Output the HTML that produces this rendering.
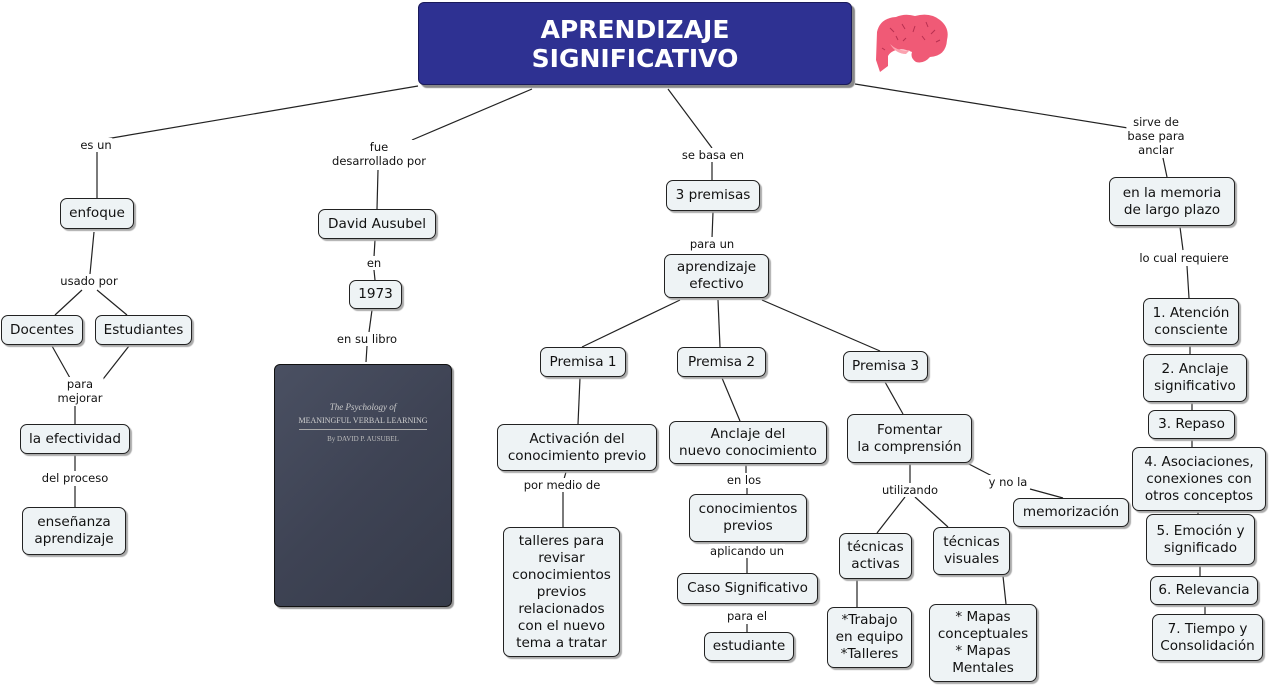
<!DOCTYPE html>
<html><head><meta charset="utf-8"><style>
body{margin:0;width:1272px;height:688px;background:#fff;position:relative;overflow:hidden;font-family:"DejaVu Sans","Liberation Sans",sans-serif;}
.n{position:absolute;box-sizing:border-box;background:#eef3f5;border:1.3px solid #222;border-radius:7px;box-shadow:2px 2px 1px #aaa;display:flex;align-items:center;justify-content:center;text-align:center;font-size:13.6px;color:#111;line-height:17px;}
.l{position:absolute;font-size:11.5px;color:#111;background:#fff;text-align:center;line-height:14px;transform:translateX(-50%);white-space:nowrap;padding:0 1px;}
svg{position:absolute;left:0;top:0;}
</style></head><body>
<svg width="1272" height="688"><g stroke="#222" stroke-width="1.2" fill="none">
<line x1="418" y1="86" x2="100" y2="140"/><line x1="97" y1="150" x2="97" y2="198"/>
<line x1="532" y1="89" x2="412" y2="140"/><line x1="378" y1="170" x2="377" y2="209"/>
<line x1="668" y1="89" x2="712" y2="148"/><line x1="712" y1="162" x2="712" y2="180"/>
<line x1="855" y1="84" x2="1128" y2="128"/><line x1="1163" y1="158" x2="1167" y2="177"/>
<line x1="94" y1="232" x2="90" y2="274"/><line x1="82" y1="290" x2="55" y2="315"/><line x1="97" y1="290" x2="127" y2="315"/>
<line x1="52" y1="346" x2="70" y2="378"/><line x1="129" y1="346" x2="100" y2="383"/>
<line x1="75" y1="406" x2="75" y2="424"/><line x1="75" y1="455" x2="75" y2="471"/><line x1="75" y1="486" x2="75" y2="507"/>
<line x1="375" y1="240" x2="374" y2="257"/><line x1="374" y1="270" x2="375" y2="280"/>
<line x1="372" y1="310" x2="369" y2="332"/><line x1="367" y1="346" x2="366" y2="362"/>
<line x1="713" y1="212" x2="712" y2="238"/>
<line x1="680" y1="300" x2="582" y2="347"/><line x1="718" y1="300" x2="720" y2="347"/><line x1="762" y1="300" x2="880" y2="351"/>
<line x1="580" y1="378" x2="578" y2="424"/><line x1="722" y1="378" x2="740" y2="421"/><line x1="885" y1="382" x2="903" y2="414"/>
<line x1="566" y1="472" x2="564" y2="479"/><line x1="563" y1="492" x2="563" y2="527"/>
<line x1="746" y1="465" x2="746" y2="474"/><line x1="747" y1="488" x2="747" y2="494"/>
<line x1="747" y1="558" x2="747" y2="573"/><line x1="747" y1="624" x2="747" y2="632"/>
<line x1="910" y1="464" x2="910" y2="483"/><line x1="905" y1="497" x2="877" y2="533"/><line x1="915" y1="497" x2="948" y2="527"/>
<line x1="965" y1="462" x2="994" y2="477"/><line x1="1030" y1="489" x2="1063" y2="498"/>
<line x1="857" y1="580" x2="857" y2="607"/><line x1="1003" y1="576" x2="1006" y2="604"/>
<line x1="1180" y1="227" x2="1183" y2="250"/><line x1="1187" y1="266" x2="1189" y2="298"/>
<line x1="1190" y1="344" x2="1190" y2="354"/><line x1="1192" y1="401" x2="1192" y2="410"/>
<line x1="1192" y1="438" x2="1192" y2="447"/><line x1="1198" y1="510" x2="1198" y2="514"/>
<line x1="1200" y1="564" x2="1200" y2="576"/><line x1="1205" y1="604" x2="1205" y2="614"/>
</g>
<g>
<path d="M877 32 Q880 18 896 17 Q905 13 915 16 Q930 12 940 20 Q950 28 947 40 Q946 56 930 57 Q924 64 916 62 Q910 58 912 52 Q903 48 896 50 Q890 52 888 56 L888 66 L880 72 L876 60 Z" fill="#f05a76"/>
<path d="M890 44 Q898 52 910 50 L906 54 Q896 54 890 44Z" fill="#fba3b0"/>
<g stroke="#b83050" stroke-width="1" fill="none"><path d="M890 28 l4 4 M902 24 l3 5 M915 26 l-2 6 M926 22 l2 5 M935 30 l-4 4 M922 36 l3 4 M906 38 l-3 3 M940 40 l-4 2 M896 36 l2 4 M882 48 l3 2"/></g>
</g>
</svg>
<div class="n" style="left:418px;top:2px;width:434px;height:83px;background:#2e3192;border-color:#1a1a5a;border-radius:6px;box-shadow:3px 3px 1px #888;color:#fff;font-weight:bold;font-size:25px;line-height:29px;font-family:'DejaVu Sans',sans-serif;">APRENDIZAJE<br>SIGNIFICATIVO</div>
<div class="n" style="left:60px;top:198px;width:74px;height:31px">enfoque</div>
<div class="n" style="left:1px;top:315px;width:82px;height:30px">Docentes</div>
<div class="n" style="left:95px;top:315px;width:97px;height:30px">Estudiantes</div>
<div class="n" style="left:20px;top:424px;width:110px;height:30px">la efectividad</div>
<div class="n" style="left:22px;top:507px;width:104px;height:48px">enseñanza<br>aprendizaje</div>
<div class="n" style="left:318px;top:209px;width:118px;height:30px">David Ausubel</div>
<div class="n" style="left:349px;top:280px;width:53px;height:29px">1973</div>
<div style="position:absolute;left:274px;top:364px;width:176px;height:241px;border-radius:6px;background:linear-gradient(135deg,#4a5062,#3e4354 50%,#363b4a);border:1px solid #111;box-shadow:2px 2px 1px #999;">
<div style="position:absolute;left:0;right:0;top:36px;text-align:center;color:#c9c9c9;font-family:'Liberation Serif',serif;font-size:9px;line-height:13px;font-style:italic">The Psychology of</div>
<div style="position:absolute;left:0;right:0;top:51px;text-align:center;color:#cfcfcf;font-family:'Liberation Serif',serif;font-size:8px;">MEANINGFUL VERBAL LEARNING</div>
<div style="position:absolute;left:24px;right:24px;top:64px;border-top:1px solid #aaa"></div>
<div style="position:absolute;left:0;right:0;top:70px;text-align:center;color:#bbb;font-family:'Liberation Serif',serif;font-size:7px;">By DAVID P. AUSUBEL</div>
</div>
<div class="n" style="left:666px;top:180px;width:94px;height:31px">3 premisas</div>
<div class="n" style="left:664px;top:254px;width:105px;height:44px">aprendizaje<br>efectivo</div>
<div class="n" style="left:540px;top:347px;width:86px;height:30px">Premisa 1</div>
<div class="n" style="left:677px;top:347px;width:89px;height:30px">Premisa 2</div>
<div class="n" style="left:843px;top:351px;width:85px;height:30px">Premisa 3</div>
<div class="n" style="left:497px;top:424px;width:160px;height:47px">Activación del<br>conocimiento previo</div>
<div class="n" style="left:669px;top:421px;width:158px;height:43px">Anclaje del<br>nuevo conocimiento</div>
<div class="n" style="left:689px;top:494px;width:118px;height:48px">conocimientos<br>previos</div>
<div class="n" style="left:677px;top:573px;width:141px;height:31px">Caso Significativo</div>
<div class="n" style="left:704px;top:632px;width:90px;height:29px">estudiante</div>
<div class="n" style="left:503px;top:527px;width:117px;height:130px">talleres para<br>revisar<br>conocimientos<br>previos<br>relacionados<br>con el nuevo<br>tema a tratar</div>
<div class="n" style="left:847px;top:414px;width:125px;height:49px">Fomentar<br>la comprensión</div>
<div class="n" style="left:1013px;top:498px;width:116px;height:29px">memorización</div>
<div class="n" style="left:839px;top:533px;width:73px;height:46px">técnicas<br>activas</div>
<div class="n" style="left:933px;top:527px;width:77px;height:48px">técnicas<br>visuales</div>
<div class="n" style="left:827px;top:607px;width:85px;height:61px">*Trabajo<br>en equipo<br>*Talleres</div>
<div class="n" style="left:929px;top:604px;width:108px;height:78px">* Mapas<br>conceptuales<br>* Mapas<br>Mentales</div>
<div class="n" style="left:1109px;top:177px;width:126px;height:49px">en la memoria<br>de largo plazo</div>
<div class="n" style="left:1143px;top:298px;width:96px;height:47px">1. Atención<br>consciente</div>
<div class="n" style="left:1143px;top:354px;width:104px;height:48px">2. Anclaje<br>significativo</div>
<div class="n" style="left:1148px;top:410px;width:87px;height:29px">3. Repaso</div>
<div class="n" style="left:1132px;top:447px;width:134px;height:64px">4. Asociaciones,<br>conexiones con<br>otros conceptos</div>
<div class="n" style="left:1146px;top:514px;width:109px;height:51px">5. Emoción y<br>significado</div>
<div class="n" style="left:1150px;top:576px;width:108px;height:29px">6. Relevancia</div>
<div class="n" style="left:1152px;top:614px;width:111px;height:47px">7. Tiempo y<br>Consolidación</div>
<div class="l" style="left:96px;top:138px">es un</div>
<div class="l" style="left:379px;top:140px">fue<br>desarrollado por</div>
<div class="l" style="left:713px;top:148px">se basa en</div>
<div class="l" style="left:1156px;top:115px">sirve de<br>base para<br>anclar</div>
<div class="l" style="left:89px;top:274px">usado por</div>
<div class="l" style="left:80px;top:377px">para<br>mejorar</div>
<div class="l" style="left:75px;top:471px">del proceso</div>
<div class="l" style="left:374px;top:256px">en</div>
<div class="l" style="left:367px;top:332px">en su libro</div>
<div class="l" style="left:712px;top:237px">para un</div>
<div class="l" style="left:562px;top:478px">por medio de</div>
<div class="l" style="left:744px;top:473px">en los</div>
<div class="l" style="left:747px;top:544px">aplicando un</div>
<div class="l" style="left:747px;top:609px">para el</div>
<div class="l" style="left:910px;top:483px">utilizando</div>
<div class="l" style="left:1008px;top:475px">y no la</div>
<div class="l" style="left:1184px;top:251px">lo cual requiere</div>
</body></html>
